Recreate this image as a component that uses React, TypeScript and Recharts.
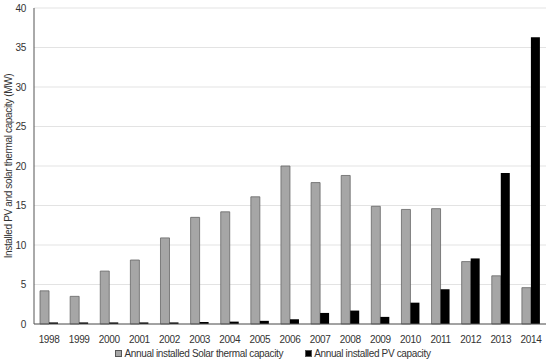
import { BarChart, Bar, XAxis, YAxis, CartesianGrid, Legend } from 'recharts';

const years = ['1998', '1999', '2000', '2001', '2002', '2003', '2004', '2005', '2006', '2007', '2008', '2009', '2010', '2011', '2012', '2013', '2014'];
const solarThermal = [4.2, 3.5, 6.7, 8.1, 10.9, 13.5, 14.2, 16.1, 20.0, 17.9, 18.8, 14.9, 14.5, 14.6, 7.9, 6.1, 4.6];
const pv = [0.2, 0.2, 0.2, 0.2, 0.2, 0.25, 0.3, 0.4, 0.6, 1.4, 1.7, 0.9, 2.7, 4.4, 8.3, 19.1, 36.3];
const yTicks = [0, 5, 10, 15, 20, 25, 30, 35, 40];

const data = years.map((y, i) => ({ year: y, thermal: solarThermal[i], pv: pv[i] }));

const FONT = '"Liberation Sans", Arial, sans-serif';
const txt = { fill: '#333', fontSize: 10, fontFamily: FONT, letterSpacing: -0.35 };

function LegendBox() {
  const item = (fill: string, label: string, mr: number) => (
    <span style={{ display: 'inline-flex', alignItems: 'center', marginRight: mr }}>
      <span style={{ width: 5, height: 5, background: fill, border: '1px solid #555', marginRight: 2 }} />
      <span>{label}</span>
    </span>
  );
  return (
    <div style={{ fontFamily: FONT, fontSize: 10, letterSpacing: -0.35, color: '#333', textAlign: 'center', paddingTop: 4, paddingLeft: 0 }}>
      {item('#a6a6a6', 'Annual installed Solar thermal capacity', 22)}
      {item('#000', 'Annual installed PV capacity', 0)}
    </div>
  );
}

export default function App() {
  return (
    <div style={{ position: 'absolute', left: 0, top: 0, background: '#fff' }}>
      <BarChart
        width={550}
        height={362}
        data={data}
        margin={{ top: 8, right: 4, left: 0, bottom: 0 }}
        barCategoryGap="20%"
        barGap={0}
      >
        <CartesianGrid vertical={false} stroke="#e3e3e3" />
        <XAxis
          dataKey="year"
          tickLine={false}
          axisLine={{ stroke: '#555' }}
          tick={{ ...txt, dy: 4 }}
          height={20}
          interval={0}
        />
        <YAxis
          domain={[0, 40]}
          ticks={yTicks}
          tickLine={false}
          axisLine={{ stroke: '#555' }}
          tick={txt}
          width={34}
          label={{
            value: 'Installed PV and solar thermal capacity (MW)',
            angle: -90,
            position: 'center',
            dx: -9,
            style: { ...txt, textAnchor: 'middle' },
          }}
        />
        <Legend content={<LegendBox />} verticalAlign="bottom" height={18} />
        <Bar dataKey="thermal" name="Annual installed Solar thermal capacity" fill="#a6a6a6" stroke="#666" strokeWidth={0.8} isAnimationActive={false} />
        <Bar dataKey="pv" name="Annual installed PV capacity" fill="#000" isAnimationActive={false} />
      </BarChart>
    </div>
  );
}
